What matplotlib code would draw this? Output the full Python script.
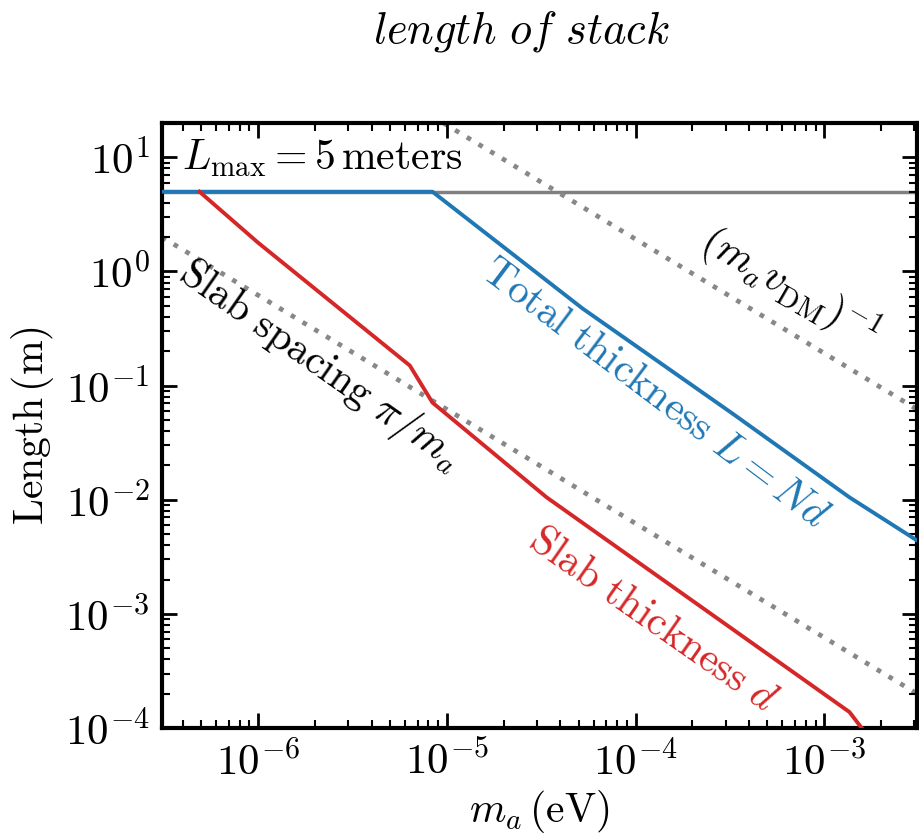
import numpy as np
import matplotlib
matplotlib.use("Agg")
import matplotlib.pyplot as plt
from matplotlib.ticker import LogLocator, NullFormatter

plt.rcParams['mathtext.fontset'] = 'cm'
plt.rcParams['font.family'] = 'serif'
plt.rcParams['font.serif'] = ['cmr10']
plt.rcParams['axes.formatter.use_mathtext'] = True

# axion mass grid (eV) and the resulting lengths (m)
total_mass = [3.1e-7, 8.4e-6, 5.25e-5, 3.26e-4, 1.36e-3, 3.1e-3]
total_len = [5.0, 5.0, 0.473, 0.057, 1.05e-2, 4.4e-3]

slab_mass = [4.9e-7, 1.0e-6, 6.37e-6, 8.4e-6, 3.38e-5, 1.36e-3, 1.75e-3]
slab_len = [5.0, 1.79, 0.15, 0.071, 1.05e-2, 1.38e-4, 8.0e-5]

spacing_mass = [3.1e-7, 3.1e-3]
spacing_len = [2.0, 2.0e-4]

coherence_mass = [9.6e-6, 3.1e-3]
coherence_len = [20.0, 6.2e-2]

L_max = 5.0

fig = plt.figure(figsize=(9.19, 8.34), dpi=100)
ax = fig.add_axes([162 / 919, 1 - 728 / 834, (917 - 162) / 919, (728 - 123) / 834])

dots = (0, (1.0, 1.9))
ax.axhline(L_max, color='#808080', lw=2.5, zorder=1)
ax.plot(spacing_mass, spacing_len, color='#888888', lw=3.4, ls=dots,
        dash_capstyle='butt', zorder=1)
ax.plot(coherence_mass, coherence_len, color='#888888', lw=3.4, ls=dots,
        dash_capstyle='butt', zorder=1)
ax.plot(total_mass, total_len, color='#1f77b4', lw=2.8, zorder=3)
ax.plot(slab_mass, slab_len, color='#d62728', lw=2.8, zorder=3)

ax.set_xscale('log')
ax.set_yscale('log')
ax.set_xlim(3.1e-7, 3.1e-3)
ax.set_ylim(1e-4, 20)

ax.xaxis.set_major_locator(LogLocator(base=10, numticks=10))
ax.xaxis.set_minor_locator(LogLocator(base=10, subs=np.arange(2, 10), numticks=10))
ax.yaxis.set_minor_formatter(NullFormatter())
ax.xaxis.set_minor_formatter(NullFormatter())

for s in ax.spines.values():
    s.set_linewidth(3)
ax.tick_params(which='both', direction='in', top=True, right=True, labelsize=31, pad=9)
ax.tick_params(which='major', length=11, width=2)
ax.tick_params(which='minor', length=6, width=1.5)

ax.set_xlabel(r'$m_a\,(\mathrm{eV})$', fontsize=30, labelpad=3)
ax.set_ylabel(r'$\mathrm{Length}\,(\mathrm{m})$', fontsize=30, labelpad=6)
fig.text(0.5 * (162 + 917) / 919 - 0.02, 1 - 32 / 834, r'$\mathit{length\ of\ stack}$',
         fontsize=32, ha='center', va='center')

ax.text(3.96e-7, 9.7, r'$L_{\mathrm{max}} = 5\,\mathrm{meters}$', fontsize=30,
        ha='left', va='center')
ax.text(2.13e-6, 0.15, r'$\mathrm{Slab\ spacing}\ \pi/m_a$', fontsize=30,
        rotation=-35, ha='center', va='center', rotation_mode='anchor')
ax.text(1.26e-4, 0.085, r'$\mathrm{Total\ thickness}\ L = Nd$', fontsize=30,
        color='#1f77b4', rotation=-37, ha='center', va='center', rotation_mode='anchor')
ax.text(6.5e-4, 0.72, r'$(m_a v_{\mathrm{DM}})^{-1}$', fontsize=30,
        rotation=-30, ha='center', va='center', rotation_mode='anchor')
ax.text(1.22e-4, 8.8e-4, r'$\mathrm{Slab\ thickness}\ d$', fontsize=30,
        color='#d62728', rotation=-35, ha='center', va='center', rotation_mode='anchor')

fig.savefig('out.png', dpi=100)
